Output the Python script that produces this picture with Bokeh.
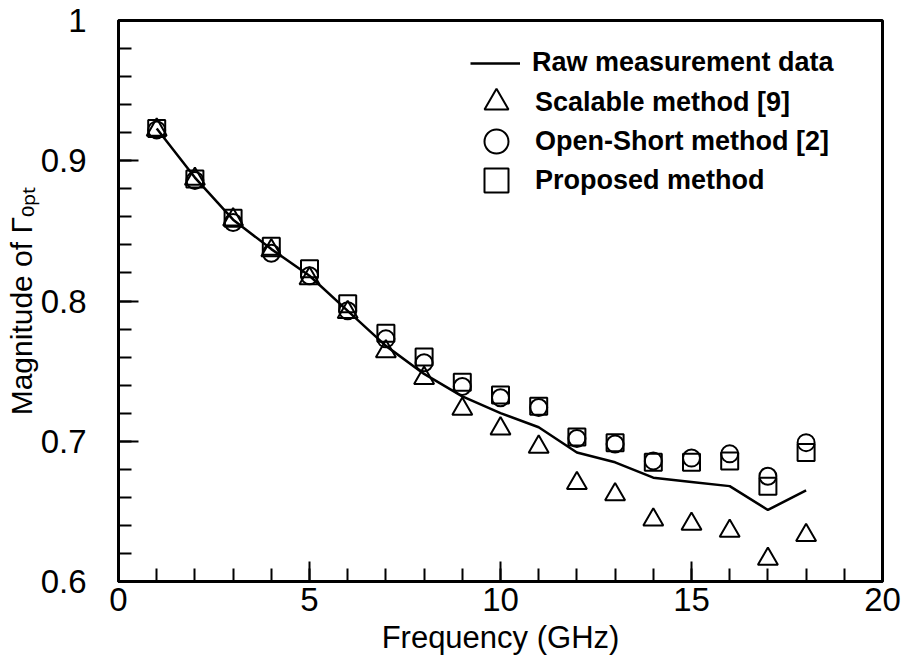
import math
from bokeh.plotting import figure
from bokeh.models import (FixedTicker, NumeralTickFormatter, Legend, LegendItem,
                          Range1d)
from bokeh.embed import file_html
from bokeh.resources import INLINE

freq = [1, 2, 3, 4, 5, 6, 7, 8, 9, 10, 11, 12, 13, 14, 15, 16, 17, 18]
raw = [0.923, 0.888, 0.858, 0.837, 0.818, 0.793, 0.768, 0.748, 0.732, 0.720,
       0.710, 0.692, 0.685, 0.674, 0.671, 0.668, 0.651, 0.665]
scalable = [0.922, 0.887, 0.858, 0.836, 0.816, 0.792, 0.764, 0.745, 0.723, 0.709,
            0.696, 0.670, 0.662, 0.644, 0.641, 0.636, 0.616, 0.633]
open_short = [0.922, 0.886, 0.856, 0.834, 0.818, 0.793, 0.773, 0.756, 0.739, 0.731,
              0.724, 0.702, 0.698, 0.686, 0.688, 0.691, 0.675, 0.699]
proposed = [0.923, 0.887, 0.859, 0.839, 0.823, 0.798, 0.777, 0.760, 0.742, 0.733,
            0.725, 0.703, 0.699, 0.685, 0.685, 0.686, 0.668, 0.692]

legend_labels = ["Raw measurement data", "Scalable method [9]",
                 "Open-Short method [2]", "Proposed method"]
x_ticks = [0, 5, 10, 15, 20]
y_ticks = [0.6, 0.7, 0.8, 0.9, 1.0]

FONT = "Liberation Sans"

p = figure(width=907, height=666, output_backend="svg", toolbar_location=None,
           x_range=Range1d(0, 20), y_range=Range1d(0.6, 1.0),
           min_border_left=118, min_border_right=25, min_border_top=20,
           min_border_bottom=85)
p.grid.visible = False
p.outline_line_color = "black"
p.outline_line_width = 3
p.background_fill_color = "white"
p.border_fill_color = "white"

xa = p.xaxis[0]
xa.ticker = FixedTicker(ticks=x_ticks, minor_ticks=list(range(0, 21)))
ya = p.yaxis[0]
ya.ticker = FixedTicker(ticks=y_ticks, minor_ticks=[round(0.6 + 0.02 * i, 2) for i in range(21)])
ya.formatter = NumeralTickFormatter(format="0.[0]")

for ax in (xa, ya):
    ax.axis_line_width = 3
    ax.axis_line_color = "black"
    ax.major_tick_in = 20
    ax.major_tick_out = 0
    ax.minor_tick_in = 13
    ax.minor_tick_out = 0
    ax.major_tick_line_width = 2
    ax.minor_tick_line_width = 2
    ax.major_label_text_font = FONT
    ax.major_label_text_font_size = "33px"
    ax.major_label_text_color = "black"
    ax.axis_label_text_font = FONT
    ax.axis_label_text_font_style = "normal"
    ax.axis_label_text_color = "black"

ya.major_label_standoff = 32
xa.major_label_standoff = 6
xa.axis_label = "Frequency (GHz)"
xa.axis_label_text_font_size = "31px"
xa.axis_label_standoff = 6

ya.axis_label = "Magnitude of \u0393\u2092\u209a\u209c"
ya.axis_label_text_font_size = "30px"
ya.axis_label_standoff = 0

r_line = p.line(freq, raw, line_color="black", line_width=2.5)
r_tri = p.scatter(freq, scalable, marker="triangle", size=20, fill_alpha=0,
                  line_color="black", line_width=2)
r_cir = p.scatter(freq, open_short, marker="circle", size=17, fill_alpha=0,
                  line_color="black", line_width=2)
r_sq = p.scatter(freq, proposed, marker="square", size=17, fill_alpha=0,
                 line_color="black", line_width=2)

def make_legend(label, renderer, loc, gw, gh, standoff):
    lg = Legend(items=[LegendItem(label=label, renderers=[renderer])], location=loc)
    lg.glyph_width = gw
    lg.glyph_height = gh
    lg.label_height = 20
    lg.padding = 0
    lg.margin = 0
    lg.spacing = 0
    lg.label_standoff = standoff
    lg.border_line_alpha = 0
    lg.background_fill_alpha = 0
    lg.label_text_font = FONT
    lg.label_text_font_size = "27px"
    lg.label_text_font_style = "bold"
    lg.label_text_color = "black"
    p.add_layout(lg)

make_legend(legend_labels[0], r_line, (352, 503), 50, 30, 12)
make_legend(legend_labels[1], r_tri, (348, 449), 60, 60, 9)
make_legend(legend_labels[2], r_cir, (348, 410), 60, 60, 9)
make_legend(legend_labels[3], r_sq, (348, 371), 60, 60, 9)

open("out.html", "w").write(file_html(p, INLINE))
